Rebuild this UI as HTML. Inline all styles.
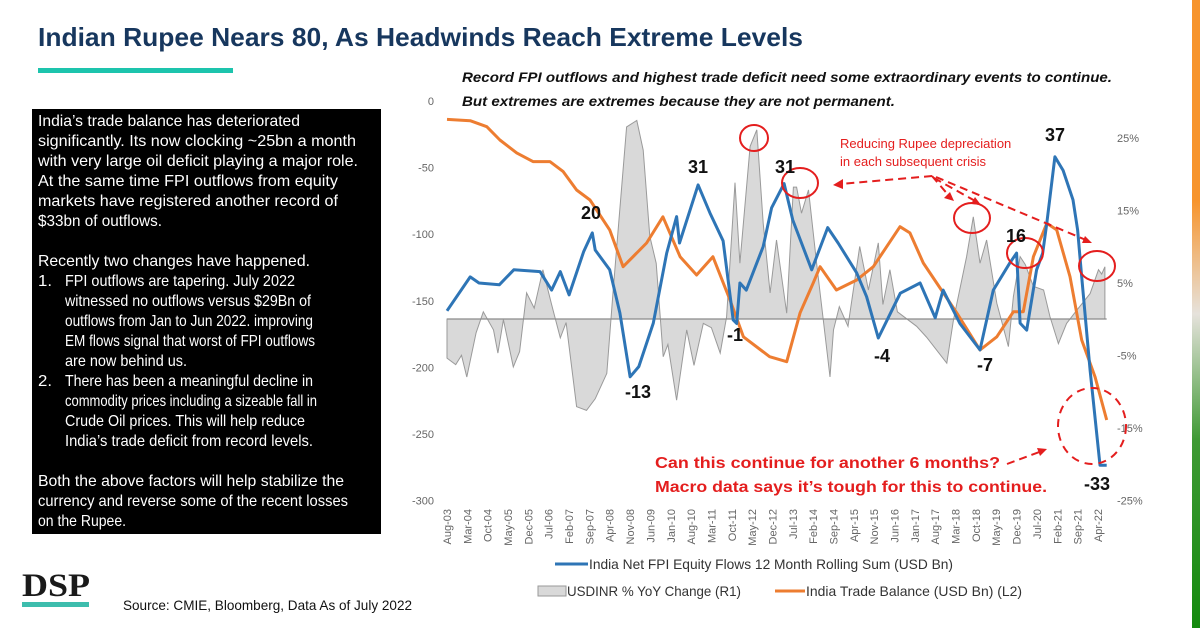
<!DOCTYPE html>
<html><head><meta charset="utf-8"><style>
body{margin:0;background:#fff;}
svg{display:block;font-family:"Liberation Sans",sans-serif;}
</style></head><body>
<svg id="chart" width="1200" height="628" viewBox="0 0 1200 628" xmlns="http://www.w3.org/2000/svg">
<defs>
<linearGradient id="flag" x1="0" y1="0" x2="0" y2="1">
<stop offset="0" stop-color="#f7942c"/><stop offset="0.32" stop-color="#f7942c"/>
<stop offset="0.5" stop-color="#e6e2dc"/><stop offset="0.7" stop-color="#3f9a35"/>
<stop offset="1" stop-color="#148a0e"/></linearGradient>
</defs>
<rect x="1192" y="0" width="8" height="628" fill="url(#flag)"/>
<text x="38" y="46" font-size="26" font-weight="bold" fill="#17375e" textLength="765" lengthAdjust="spacingAndGlyphs">Indian Rupee Nears 80, As Headwinds Reach Extreme Levels</text>
<rect x="38" y="68" width="195" height="5" fill="#1dc4ad"/>

<g>
<rect x="32" y="109" width="349" height="425" fill="#000"/>
<g fill="#fff" font-size="16" id="boxtext"></g>
</g>

<text x="462" y="82" font-size="14" font-weight="bold" font-style="italic" fill="#111" textLength="650" lengthAdjust="spacingAndGlyphs">Record FPI outflows and highest trade deficit need some extraordinary events to continue.</text>
<text x="462" y="106" font-size="14" font-weight="bold" font-style="italic" fill="#111" textLength="433" lengthAdjust="spacingAndGlyphs">But extremes are extremes because they are not permanent.</text>

<g id="plot"></g>

<g fill="none" stroke="#e41e1e" stroke-width="2">
<ellipse cx="754" cy="138" rx="14" ry="13"/>
<ellipse cx="800" cy="183" rx="18" ry="15"/>
<ellipse cx="972" cy="218" rx="18" ry="15"/>
<ellipse cx="1025" cy="253" rx="18" ry="15"/>
<ellipse cx="1097" cy="266" rx="18" ry="15"/>
<ellipse cx="1092" cy="426" rx="34" ry="38" stroke-dasharray="8,6"/>
<g stroke-dasharray="8,5">
<line x1="932" y1="176" x2="840" y2="184"/>
<line x1="932" y1="176" x2="950" y2="197"/>
<line x1="934" y1="178" x2="977" y2="202"/>
<line x1="936" y1="177" x2="1086" y2="240"/>
<line x1="1007" y1="464" x2="1042" y2="451"/>
</g>
<g fill="#e41e1e" stroke="none">
<polygon points="833,185 843,179 843,189"/>
<polygon points="954,201 944,198 950,192"/>
<polygon points="981,205 971,204 975,197"/>
<polygon points="1092,243 1082,243 1085,236"/>
<polygon points="1047,449 1040,456 1037,448"/>
</g>
</g>
<text x="840" y="148" font-size="13" fill="#e41e1e">Reducing Rupee depreciation</text>
<text x="840" y="166" font-size="13" fill="#e41e1e">in each subsequent crisis</text>
<text x="655" y="468" font-size="16" font-weight="bold" fill="#e41e1e" textLength="345" lengthAdjust="spacingAndGlyphs">Can this continue for another 6 months?</text>
<text x="655" y="492" font-size="16" font-weight="bold" fill="#e41e1e" textLength="392" lengthAdjust="spacingAndGlyphs">Macro data says it’s tough for this to continue.</text>

<g font-size="18" font-weight="bold" fill="#111" text-anchor="middle">
<text x="591" y="219">20</text><text x="638" y="398">-13</text><text x="698" y="173">31</text>
<text x="735" y="341">-1</text><text x="785" y="173">31</text><text x="882" y="362">-4</text>
<text x="985" y="371">-7</text><text x="1016" y="242">16</text><text x="1055" y="141">37</text>
<text x="1097" y="490">-33</text>
</g>

<g font-size="14" fill="#333">
<line x1="555" y1="564" x2="588" y2="564" stroke="#2e75b6" stroke-width="3"/>
<text x="589" y="569" textLength="364" lengthAdjust="spacingAndGlyphs">India Net FPI Equity Flows 12 Month Rolling Sum (USD Bn)</text>
<rect x="538" y="586" width="28" height="10" fill="#d9d9d9" stroke="#999"/>
<text x="567" y="596" textLength="174" lengthAdjust="spacingAndGlyphs">USDINR % YoY Change (R1)</text>
<line x1="775" y1="591" x2="805" y2="591" stroke="#ed7d31" stroke-width="3"/>
<text x="806" y="596" textLength="216" lengthAdjust="spacingAndGlyphs">India Trade Balance (USD Bn) (L2)</text>
</g>

<text x="22" y="596" font-family="Liberation Serif,serif" font-size="33" font-weight="bold" fill="#1a1a1a" textLength="68" lengthAdjust="spacingAndGlyphs">DSP</text>
<rect x="22" y="602" width="67" height="5" fill="#3dbdad"/>
<text x="123" y="610" font-size="14" fill="#111" textLength="289" lengthAdjust="spacingAndGlyphs">Source: CMIE, Bloomberg, Data As of July 2022</text>
</svg>
<script>
// ---- chart data (month index from Aug-03) ----
const xTickLabels = ["Aug-03","Mar-04","Oct-04","May-05","Dec-05","Jul-06","Feb-07","Sep-07","Apr-08","Nov-08","Jun-09","Jan-10","Aug-10","Mar-11","Oct-11","May-12","Dec-12","Jul-13","Feb-14","Sep-14","Apr-15","Nov-15","Jun-16","Jan-17","Aug-17","Mar-18","Oct-18","May-19","Dec-19","Jul-20","Feb-21","Sep-21","Apr-22"];
const leftTicks = [0,-50,-100,-150,-200,-250,-300];
const rightTicks = [25,15,5,-5,-15,-25];
const fpiMonths = [0,8,11,18,23,32,36,39,42,47,50,51,56,59.5,63,66,71,75.6,79,80,86.4,90.5,95,98.5,99.7,100.8,103,108.8,111.7,116,119,125.5,131,134.6,141,144.4,148.4,156,162.8,168,170.7,176.5,183.4,188,193.7,196,197.2,199.5,202.9,205,206.4,209.2,212,215.4,217,218.4,221.3,224.7,227];
const fpiValues = [2.1,9.8,8.4,8,11.4,11,6.8,11,5.7,15.5,19.8,15.9,11.4,1.6,-12.9,-10.6,-0.7,15.2,23.5,17.5,30.7,24.3,18,0,-0.8,8.4,6.8,16.7,25.5,31,22.7,11.4,21,17.5,10.7,5.3,-4.1,6.1,8.4,0.5,6.8,-0.8,-6.8,6.8,13,15.2,-0.7,-2.3,11.4,15.2,22,37.1,34,27.3,20.5,9.8,-11.4,-33,-33];
const tradeMonths = [0,8,13.7,18.2,24,29.6,35.4,40,44.6,49.2,56,60.6,68.7,74.3,80.2,85.9,91.5,97.4,102,111,116.9,121.5,126,128.4,134,141,146.7,155.9,159.3,163.9,168.5,175.4,183.4,189.2,194.9,198.3,201.8,206.4,209.8,214.4,218.4,223,227];
const tradeValues = [-13.8,-14.8,-19.3,-29.3,-39,-45.5,-45.5,-53,-66.8,-74.3,-96.8,-124.4,-106.6,-86.9,-116.9,-130.6,-116.9,-149.4,-177,-192,-195.7,-159,-136.6,-124.4,-141.9,-134.4,-124.4,-94.4,-99,-121.6,-136.6,-159,-186.9,-177,-158.2,-158.2,-116.9,-91.8,-96.8,-131.8,-179.4,-207,-239.5];
const inrMonths = [0,3,5,6.8,10,12.5,16,17.5,19.4,22.8,25,27.4,30,33,36,39,41,44.6,48,51,55,57.2,61.8,65.3,67.5,69.8,72,74.4,76,79,82.5,85,88.2,91,94,96.2,99.1,100.8,104.3,106.6,108.8,111.2,113.4,116.9,119.2,120.3,122,124.4,127.2,131.8,133,135,138,142,145,148.4,150,152.4,155,161.6,165,172,174.3,178.8,181.1,183.4,185.7,189.2,193.2,194.9,197.2,199,201.8,205.3,207.5,210.4,213.2,216.7,221.3,224.2,225.3,226.4];
const inrValues = [-5.4,-6.3,-5,-8,-1.9,1,-1.5,-4.7,-0.1,-6.6,-4.5,3.6,1.5,6.8,2,-2.6,-0.5,-12.1,-12.6,-11,-7.5,4,26.5,27.4,23.3,11.4,7.7,-5.2,-3.5,-11.2,-1.5,-6.4,-0.6,-1.2,-4.7,0.3,18.8,7.7,23.8,26.1,13.2,3.6,10.9,0.8,18.2,18.2,14.6,17.8,7.7,-8,-1.5,1.7,-1,10,4,10.5,2,6.8,1,-1,-2.5,-6.1,-0.1,8.6,14.1,7.7,10.9,2.2,-3.8,3.1,8.6,7.5,4.5,4,0.3,-3.4,-0.6,1.2,3.5,6.8,6.2,7.2];

// ---- axis functions ----
const X0 = 447, PXM = 2.906;
const xScale = m => X0 + m * PXM;
const yLeft = v => 101 - v * 1.332;
const yRight = p => 319 - p * 7.25;
const yFpi = v => 320 - v * 4.4;
const NS = "http://www.w3.org/2000/svg";
const plot = document.getElementById('plot');
function mk(tag, attrs, parent) {
  const e = document.createElementNS(NS, tag);
  for (const k in attrs) e.setAttribute(k, attrs[k]);
  (parent || plot).appendChild(e);
  return e;
}
let d = "M" + xScale(inrMonths[0]) + "," + yRight(0);
inrMonths.forEach((m, i) => { d += " L" + xScale(m).toFixed(1) + "," + yRight(inrValues[i]).toFixed(1); });
d += " L" + xScale(inrMonths[inrMonths.length-1]).toFixed(1) + "," + yRight(0) + " Z";
const area = mk('path', {d: d, fill: '#d9d9d9', stroke: '#9a9a9a', 'stroke-width': 1});


const base = mk('line', {x1: xScale(0), x2: xScale(227), y1: yRight(0), y2: yRight(0), stroke: '#8a8a8a', 'stroke-width': 1.2});


const tradeLine = mk('polyline', {points: tradeMonths.map((m, i) => xScale(m).toFixed(1) + "," + yLeft(tradeValues[i]).toFixed(1)).join(" "), fill: 'none', stroke: '#ed7d31', 'stroke-width': 3, 'stroke-linejoin': 'round'});


const fpiLine = mk('polyline', {points: fpiMonths.map((m, i) => xScale(m).toFixed(1) + "," + yFpi(fpiValues[i]).toFixed(1)).join(" "), fill: 'none', stroke: '#2e75b6', 'stroke-width': 3, 'stroke-linejoin': 'round'});


leftTicks.forEach(v => {
  const t = mk('text', {x: 434, y: yLeft(v) + 4, 'font-size': 11, fill: '#666', 'text-anchor': 'end'});
  t.textContent = v;
  
  
});
rightTicks.forEach(p => {
  const t = mk('text', {x: 1117, y: yRight(p) + 4, 'font-size': 11, fill: '#666'});
  t.textContent = p + "%";
  
  
});
xTickLabels.forEach((lab, i) => {
  const x = xScale(i * 7) + 4;
  const t = mk('text', {x: 0, y: 0, 'font-size': 11, fill: '#666', 'text-anchor': 'end', transform: 'translate(' + x.toFixed(1) + ',509) rotate(-90)'});
  t.textContent = lab;
  
  
});
const boxLines = [
 [38,126,"India’s trade balance has deteriorated",262],
 [38,146,"significantly. Its now clocking ~25bn a month",318],
 [38,166,"with very large oil deficit playing a major role.",320],
 [38,186,"At the same time FPI outflows from equity",300],
 [38,206,"markets have registered another record of",300],
 [38,226,"$33bn of outflows.",124],
 [38,266,"Recently two changes have happened.",272],
 [38,286,"1.",14],[65,286,"FPI outflows are tapering. July 2022",230],
 [65,306,"witnessed  no outflows versus $29Bn of",246],
 [65,326,"outflows from Jan to Jun 2022. improving",248],
 [65,346,"EM flows signal that worst of FPI outflows",250],
 [65,366,"are now behind us.",122],
 [38,386,"2.",14],[65,386,"There has been a meaningful decline in",248],
 [65,406,"commodity prices including a sizeable fall in",252],
 [65,426,"Crude Oil prices. This will help reduce",240],
 [65,446,"India’s trade deficit from record levels.",248],
 [38,486,"Both the above factors will help stabilize the",306],
 [38,506,"currency and reverse some of the recent losses",310],
 [38,526,"on the Rupee.",88]
];
const bt = document.getElementById('boxtext');
boxLines.forEach(l => {
  const t = mk('text', {x: l[0], y: l[1], textLength: l[3], lengthAdjust: 'spacingAndGlyphs'}, bt);
  t.textContent = l[2];
  
  
});
</script>
</body></html>
